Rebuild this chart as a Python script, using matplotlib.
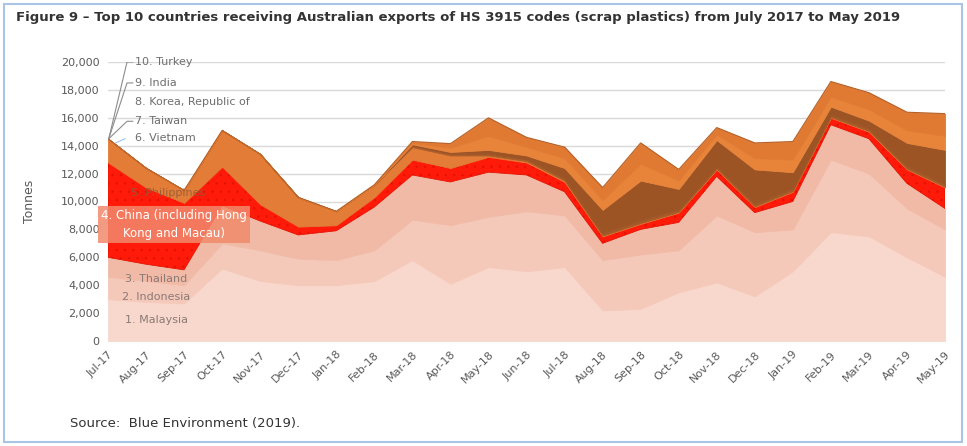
import matplotlib.pyplot as plt
import numpy as np
from matplotlib.patches import Rectangle

months = ["Jul-17", "Aug-17", "Sep-17", "Oct-17", "Nov-17", "Dec-17", "Jan-18", "Feb-18",
          "Mar-18", "Apr-18", "May-18", "Jun-18", "Jul-18", "Aug-18", "Sep-18", "Oct-18",
          "Nov-18", "Dec-18", "Jan-19", "Feb-19", "Mar-19", "Apr-19", "May-19"]

# tonnes per month
malaysia = [3000, 2800, 2700, 5200, 4300, 4000, 4000, 4300, 5800, 4100, 5300, 5000,
            5300, 2200, 2300, 3500, 4200, 3200, 5000, 7800, 7500, 6000, 4600]
indonesia = [1600, 1500, 1300, 1800, 2200, 1900, 1800, 2200, 2900, 4200, 3600, 4300,
             3700, 3600, 3900, 3000, 4800, 4600, 3000, 5200, 4500, 3500, 3400]
thailand = [1400, 1200, 1100, 2700, 2100, 1700, 2100, 3100, 3200, 3100, 3200, 2600,
            1700, 1200, 1800, 2000, 2800, 1400, 2000, 2500, 2500, 1800, 1500]
china = [6800, 5500, 4800, 2800, 1200, 600, 400, 700, 1100, 1000, 1100, 900,
         700, 500, 400, 700, 500, 400, 700, 500, 500, 1000, 1500]
philippines = [1700, 1400, 900, 2600, 3600, 2100, 1000, 900, 900, 900, 100, 100,
               100, 50, 50, 50, 50, 50, 50, 50, 50, 50, 50]
vietnam = [0, 0, 0, 0, 0, 0, 0, 0, 100, 100, 100, 100,
           100, 100, 100, 100, 100, 100, 100, 100, 100, 100, 100]
taiwan = [0, 0, 0, 0, 0, 0, 0, 0, 50, 50, 50, 50,
          100, 100, 150, 100, 100, 100, 100, 100, 100, 100, 100]
korea = [0, 0, 0, 0, 0, 0, 0, 0, 50, 100, 250, 250,
         700, 1650, 2800, 1450, 1850, 2450, 1150, 550, 550, 1650, 2450]
india = [0, 0, 0, 0, 0, 0, 0, 0, 100, 300, 1000, 600,
         700, 700, 1200, 600, 400, 800, 900, 700, 800, 900, 1000]
turkey = [0, 0, 0, 0, 0, 0, 0, 0, 100, 300, 1300, 700,
          800, 900, 1500, 800, 500, 1100, 1300, 1100, 1200, 1300, 1600]

series = [malaysia, indonesia, thailand, china, philippines, vietnam, taiwan, korea, india, turkey]
colors = ["#f8d8cc", "#f5c9ba", "#f1baa7", "#ff1a0a", "#e27c36", "#a95d2a",
          "#a35828", "#9c5425", "#e8843a", "#e07a33"]

plt.rcParams["hatch.linewidth"] = 0.5
fig = plt.figure(figsize=(9.67, 4.46), dpi=100)
ax = fig.add_axes([108/967, 1 - 341/446, 837/967, 279/446])

x = np.arange(len(months))
polys = ax.stackplot(x, *series, colors=colors)
for p, c in zip(polys, colors):
    p.set_edgecolor(c)
    p.set_linewidth(0.6)
polys[3].set_hatch("..")
polys[3].set_edgecolor("#e31200")
total = np.sum(series, axis=0)
ax.plot(x, total, color="#b5622a", lw=0.8)

ax.set_xlim(0, len(months) - 1)
ax.set_ylim(0, 20000)
ax.set_yticks(np.arange(0, 20001, 2000))
ax.set_yticklabels([f"{v:,}" for v in range(0, 20001, 2000)])
ax.grid(axis="y", color="#d9d9d9", lw=1)
ax.set_axisbelow(True)
for s in ax.spines.values():
    s.set_visible(False)
ax.tick_params(length=0, labelsize=8, labelcolor="#595959", pad=6)
ax.set_xticks(x)
ax.set_xticklabels(months, rotation=45, ha="right", rotation_mode="anchor")
ax.set_ylabel("Tonnes", fontsize=9, color="#595959", labelpad=18)

# series labels
tc = "#6e6e6e"
ax.text(0.7, 20000, "10. Turkey", fontsize=8, color=tc, va="center")
ax.text(0.7, 18500, "9. India", fontsize=8, color=tc, va="center")
ax.text(0.7, 17100, "8. Korea, Republic of", fontsize=8, color=tc, va="center")
ax.text(0.7, 15750, "7. Taiwan", fontsize=8, color=tc, va="center")
ax.text(0.7, 14550, "6. Vietnam", fontsize=8, color=tc, va="center")
for yy in [20000, 18500, 15750]:
    ax.plot([0.02, 0.5, 0.65], [14500, yy, yy], color="#8c8c8c", lw=0.8)
ax.plot([0.2, 0.45], [14200, 14500], color="#9dc3e6", lw=0.8)
ax.text(0.6, 10600, "5. Philippines", fontsize=8, color="#8c5a3a", va="center", alpha=0.8)
ax.add_patch(Rectangle((-0.27, 7000), 4.0, 2700, facecolor="#f28a6c", alpha=0.85,
                       edgecolor="none", clip_on=False, zorder=3))
ax.text(1.73, 8350, "4. China (including Hong\nKong and Macau)", fontsize=8.5, color="white",
        ha="center", va="center", zorder=4, linespacing=1.5)
ax.text(0.45, 4450, "3. Thailand", fontsize=8, color="#8a7a75", va="center")
ax.text(0.37, 3150, "2. Indonesia", fontsize=8, color="#8a7a75", va="center")
ax.text(0.45, 1500, "1. Malaysia", fontsize=8, color="#8a7a75", va="center")

fig.text(16/967, 1 - 17/446, "Figure 9 \u2013 Top 10 countries receiving Australian exports of HS 3915 codes (scrap plastics) from July 2017 to May 2019",
         fontsize=9.5, fontweight="bold", color="#333333", va="center")
fig.text(70/967, 1 - 423/446, "Source:  Blue Environment (2019).", fontsize=9.5, color="#333333", va="center")
fig.add_artist(Rectangle((4/967, 4/446), 958/967, 438/446, transform=fig.transFigure,
                         fill=False, edgecolor="#a9c4e4", lw=1.5))

fig.savefig("out.png", dpi=100)
